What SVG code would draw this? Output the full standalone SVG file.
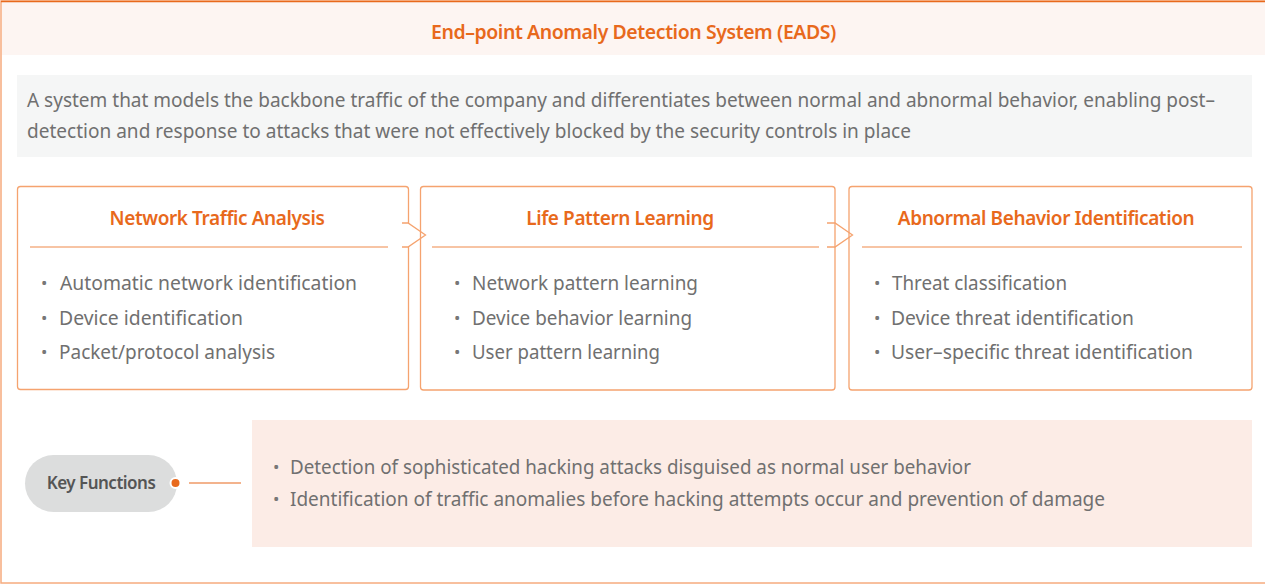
<svg xmlns="http://www.w3.org/2000/svg" width="1265" height="585" viewBox="0 0 1265 585">
<style>
.frame{fill:none;stroke:#f6ab7e;stroke-width:1.5}
.box{fill:#fff;stroke:#f5a36f;stroke-width:1.3}
.hl{stroke:#f08a4b;stroke-width:1.2}
.ttl{font-family:"Noto Sans","Open Sans",sans-serif;font-size:19px;font-weight:600;fill:#e8691c;text-anchor:middle;letter-spacing:-0.4px}
.txt{font-family:"Noto Sans","Open Sans",sans-serif;font-size:19px;fill:#707070}
.bul{font-family:"Noto Sans","Open Sans",sans-serif;font-size:17px;fill:#777}
.arrow{fill:#fff;stroke:none}
.arrowline{fill:none;stroke:#f5a36f;stroke-width:1.3}
</style>
<rect x="1" y="1" width="1270" height="582" class="frame"/>
<g id="header">
<rect x="2" y="2" width="1265" height="53" fill="#fdf5f2"/>
<line x1="1" y1="1.5" x2="1265" y2="1.5" stroke="#e8691c" stroke-width="1.5"/>
<text x="633.5" y="39" class="ttl" textLength="405" lengthAdjust="spacingAndGlyphs">End–point Anomaly Detection System (EADS)</text>
</g>
<g id="description">
<rect x="17" y="75" width="1235" height="82" fill="#f5f6f6"/>
<text x="27" y="107" class="txt" textLength="1188" lengthAdjust="spacingAndGlyphs">A system that models the backbone traffic of the company and differentiates between normal and abnormal behavior, enabling post–</text>
<text x="27" y="138" class="txt" textLength="884" lengthAdjust="spacingAndGlyphs">detection and response to attacks that were not effectively blocked by the security controls in place</text>
</g>
<g id="box1">
<rect x="17.5" y="186.5" width="391" height="203" rx="3" class="box"/>
<line x1="30" y1="247" x2="388" y2="247" class="hl"/>
<text x="217" y="225" class="ttl">Network Traffic Analysis</text>
<text x="41" y="289" class="bul">•</text><text x="60" y="290" class="txt" textLength="297" lengthAdjust="spacingAndGlyphs">Automatic network identification</text>
<text x="41" y="324" class="bul">•</text><text x="59" y="325" class="txt" textLength="184" lengthAdjust="spacingAndGlyphs">Device identification</text>
<text x="41" y="358" class="bul">•</text><text x="59" y="359" class="txt" textLength="216" lengthAdjust="spacingAndGlyphs">Packet/protocol analysis</text>
</g>
<g id="connectors">
<polygon points="402,223 408,223 425.5,235 408,247 402,247" class="arrow"/>
<polyline points="402,223 408,223 425.5,235 408,247 402,247" class="arrowline"/>
<polygon points="827,223 835,223 852.5,235 835,247 827,247" class="arrow"/>
<polyline points="827,223 835,223 852.5,235 835,247 827,247" class="arrowline"/>
</g>
<g id="box2">
<path d="M423.5,186.5 H832 a3,3 0 0 1 3,3 V387 a3,3 0 0 1 -3,3 H423.5 a3,3 0 0 1 -3,-3 V189.5 a3,3 0 0 1 3,-3 Z" fill="none" stroke="#f5a36f" stroke-width="1.3"/>
<line x1="432" y1="247" x2="819" y2="247" class="hl"/>
<text x="620" y="225" class="ttl">Life Pattern Learning</text>
<text x="454" y="289" class="bul">•</text><text x="472" y="290" class="txt" textLength="226" lengthAdjust="spacingAndGlyphs">Network pattern learning</text>
<text x="454" y="324" class="bul">•</text><text x="472" y="325" class="txt" textLength="220" lengthAdjust="spacingAndGlyphs">Device behavior learning</text>
<text x="454" y="358" class="bul">•</text><text x="472" y="359" class="txt" textLength="188" lengthAdjust="spacingAndGlyphs">User pattern learning</text>
</g>
<g id="box3">
<path d="M852,186.5 H1249 a3,3 0 0 1 3,3 V387 a3,3 0 0 1 -3,3 H852 a3,3 0 0 1 -3,-3 V189.5 a3,3 0 0 1 3,-3 Z" fill="none" stroke="#f5a36f" stroke-width="1.3"/>
<line x1="862" y1="247" x2="1242" y2="247" class="hl"/>
<text x="1046" y="225" class="ttl">Abnormal Behavior Identification</text>
<text x="874" y="289" class="bul">•</text><text x="892" y="290" class="txt" textLength="175" lengthAdjust="spacingAndGlyphs">Threat classification</text>
<text x="874" y="324" class="bul">•</text><text x="891" y="325" class="txt" textLength="243" lengthAdjust="spacingAndGlyphs">Device threat identification</text>
<text x="874" y="358" class="bul">•</text><text x="891" y="359" class="txt" textLength="302" lengthAdjust="spacingAndGlyphs">User–specific threat identification</text>
</g>
<g id="key-functions">
<rect x="25" y="455" width="152" height="57" rx="28.5" fill="#dcdddd"/>
<text x="101" y="489" font-family="Noto Sans, sans-serif" font-size="17" font-weight="600" fill="#555" text-anchor="middle" letter-spacing="-0.5">Key Functions</text>
<circle cx="175.5" cy="483" r="5" fill="#e8691c" stroke="#fff" stroke-width="2"/>
<line x1="189" y1="483" x2="241" y2="483" stroke="#e8691c" stroke-width="1.2"/>
</g>
<g id="functions-list">
<rect x="252" y="420" width="1000" height="127" fill="#fcece6"/>
<text x="273" y="473" class="bul">•</text><text x="290" y="474" class="txt" textLength="681" lengthAdjust="spacingAndGlyphs">Detection of sophisticated hacking attacks disguised as normal user behavior</text>
<text x="273" y="505" class="bul">•</text><text x="290" y="506" class="txt" textLength="815" lengthAdjust="spacingAndGlyphs">Identification of traffic anomalies before hacking attempts occur and prevention of damage</text>
</g>
</svg>
